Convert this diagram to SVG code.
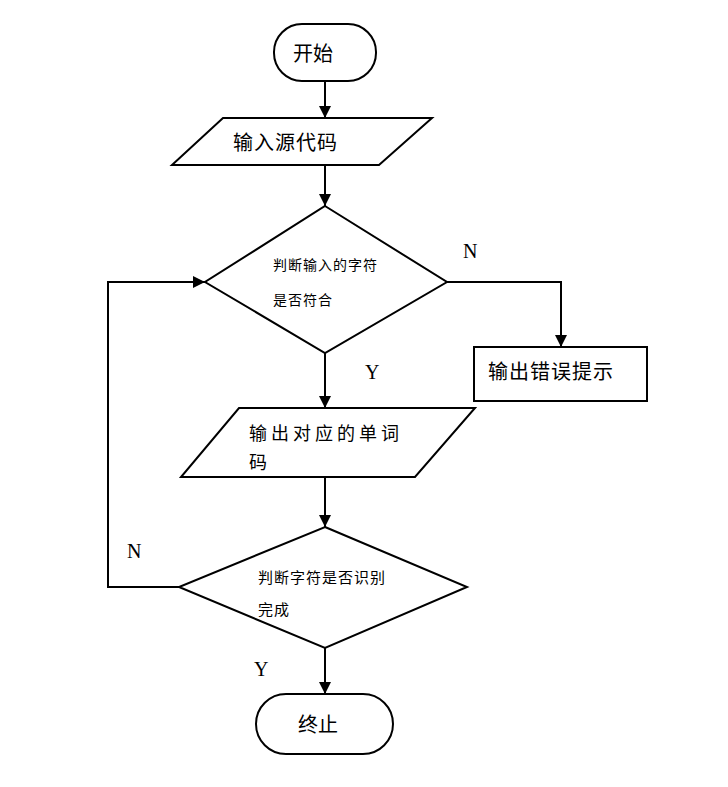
<svg xmlns="http://www.w3.org/2000/svg" width="728" height="787" viewBox="0 0 728 787">
<defs>
<marker id="ah" viewBox="0 0 12 12" refX="12" refY="6" markerWidth="12" markerHeight="12" markerUnits="userSpaceOnUse" orient="auto">
<path d="M0,0 L12,6 L0,12 Z" fill="#000"/>
</marker>
</defs>
<style>
.s{fill:#fff;stroke:#000;stroke-width:2}
.c{fill:none;stroke:#000;stroke-width:2}
.t{font-family:"Liberation Sans","Noto Sans CJK SC",sans-serif;fill:#000}
.l{font-family:"Liberation Serif",serif;font-size:20px;fill:#000}
</style>
<rect width="728" height="787" fill="#fff"/>
<g id="connectors">
<path class="c" d="M325,81 V118" marker-end="url(#ah)"/>
<path class="c" d="M325,165 V206" marker-end="url(#ah)"/>
<path class="c" d="M447,282 H561 V347" marker-end="url(#ah)"/>
<path class="c" d="M325,353 V408" marker-end="url(#ah)"/>
<path class="c" d="M325,477 V527" marker-end="url(#ah)"/>
<path class="c" d="M179,587 H108 V282 H205" marker-end="url(#ah)"/>
<path class="c" d="M325,648 V694" marker-end="url(#ah)"/>
<text class="l" x="463" y="258">N</text>
<text class="l" x="365" y="379">Y</text>
<text class="l" x="127" y="558">N</text>
<text class="l" x="254" y="676">Y</text>
</g>
<g id="start">
<rect class="s" x="274" y="24" width="102" height="57" rx="28" ry="28"/>
<text class="t" x="313" y="61" font-size="20" text-anchor="middle">开始</text>
</g>
<g id="input">
<polygon class="s" points="223,118 432,118 379,165 172,165"/>
<text class="t" x="233" y="150" font-size="20" letter-spacing="1">输入源代码</text>
</g>
<g id="check1">
<polygon class="s" points="325,206 447,282 325,353 205,282"/>
<text class="t" x="273" y="270" font-size="14" letter-spacing="1">判断输入的字符</text>
<text class="t" x="273" y="305" font-size="14" letter-spacing="1">是否符合</text>
</g>
<g id="error">
<rect class="s" x="474" y="347" width="173" height="54"/>
<text class="t" x="488" y="379" font-size="20" letter-spacing="1">输出错误提示</text>
</g>
<g id="output">
<polygon class="s" points="239,408 475,408 415,477 181,477"/>
<text class="t" x="249" y="440" font-size="18" letter-spacing="4">输出对应的单词</text>
<text class="t" x="249" y="469" font-size="18">码</text>
</g>
<g id="check2">
<polygon class="s" points="325,527 467,587 325,648 179,587"/>
<text class="t" x="258" y="583" font-size="15" letter-spacing="1">判断字符是否识别</text>
<text class="t" x="258" y="615" font-size="15" letter-spacing="1">完成</text>
</g>
<g id="end">
<rect class="s" x="256" y="694" width="137" height="60" rx="30" ry="30"/>
<text class="t" x="318" y="732" font-size="20" text-anchor="middle">终止</text>
</g>
</svg>
